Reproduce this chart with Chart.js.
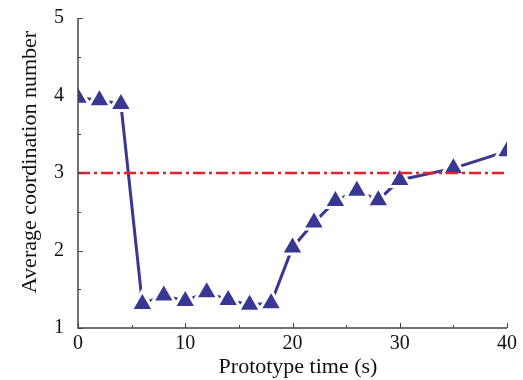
<!DOCTYPE html>
<html>
<head>
<meta charset="utf-8">
<script src="https://cdn.jsdelivr.net/npm/chart.js@4"></script>
<style>
    html, body { margin: 0; padding: 0; background: #fff; }
    #wrap { width: 523px; height: 380px; }
</style>
</head>
<body>
<div id="wrap"><canvas id="coordChart" width="523" height="380"></canvas></div>
<script>
// ===================== DATA =====================
const timeSec = [0, 2, 4, 6, 8, 10, 12, 14, 16, 18, 20, 22, 24, 26, 28, 30, 35, 40];
const avgCoord = [3.97, 3.94, 3.89, 1.31, 1.42, 1.35, 1.46, 1.36, 1.30, 1.32, 2.04, 2.36, 2.64, 2.77, 2.65, 2.91, 3.06, 3.28];
const thresholdX = [0, 40];
const thresholdY = [3, 3];
const xTicks = [0, 10, 20, 30, 40];
const yTicks = [1, 2, 3, 4, 5];
const xMinorTicks = [5, 15, 25, 35];
const yMinorTicks = [1.5, 2.5, 3.5, 4.5];

const FONT = '"Liberation Serif", "Times New Roman", serif';
const BLUE = '#383894';
const RED = '#e3232b';

// Axis lines and inward ticks (drawn through the scales)
const inwardAxes = {
    id: 'inwardAxes',
    afterDatasetsDraw(chart) {
        const ctx = chart.ctx;
        const xs = chart.scales.x;
        const ys = chart.scales.y;
        const left = Math.round(xs.getPixelForValue(0));
        const bottom = Math.round(ys.getPixelForValue(1));
        ctx.save();
        ctx.strokeStyle = '#444';
        ctx.lineWidth = 1.5;
        ctx.beginPath();
        ctx.moveTo(left, ys.getPixelForValue(5));
        ctx.lineTo(left, bottom);
        ctx.lineTo(xs.getPixelForValue(40), bottom);
        ctx.stroke();

        ctx.lineWidth = 1;
        ctx.beginPath();
        xTicks.forEach(function(v) {
            const px = Math.round(xs.getPixelForValue(v)) + 0.5;
            ctx.moveTo(px, bottom);
            ctx.lineTo(px, bottom - 5);
        });
        xMinorTicks.forEach(function(v) {
            const px = Math.round(xs.getPixelForValue(v)) + 0.5;
            ctx.moveTo(px, bottom);
            ctx.lineTo(px, bottom - 3);
        });
        yTicks.forEach(function(v) {
            const py = Math.round(ys.getPixelForValue(v)) + 0.5;
            ctx.moveTo(left, py);
            ctx.lineTo(left + 5, py);
        });
        yMinorTicks.forEach(function(v) {
            const py = Math.round(ys.getPixelForValue(v)) + 0.5;
            ctx.moveTo(left, py);
            ctx.lineTo(left + 3, py);
        });
        ctx.stroke();
        ctx.restore();
    }
};

const ctx = document.getElementById('coordChart').getContext('2d');
const coordChart = new Chart(ctx, {
    type: 'line',
    data: {
        datasets: [{
            data: thresholdX.map(function(x, i) { return { x: x, y: thresholdY[i] }; }),
            borderColor: RED,
            borderWidth: 2.5,
            borderDash: [12, 4, 3, 4],
            pointRadius: 0,
            fill: false
        }, {
            data: timeSec.map(function(t, i) { return { x: t, y: avgCoord[i] }; }),
            borderColor: BLUE,
            borderWidth: 3,
            pointStyle: 'triangle',
            pointRadius: 13,
            pointBorderWidth: 3,
            pointBorderColor: '#fff',
            pointBackgroundColor: BLUE,
            tension: 0,
            fill: false
        }]
    },
    options: {
        responsive: false,
        animation: false,
        events: [],
        layout: { padding: { top: 16, right: 9 } },
        plugins: {
            legend: { display: false },
            tooltip: { enabled: false }
        },
        scales: {
            x: {
                type: 'linear',
                min: 0,
                max: 40,
                afterFit: function(scale) { scale.height = 52; },
                grid: { display: false },
                border: { display: false },
                ticks: {
                    stepSize: 10,
                    padding: -4,
                    maxRotation: 0,
                    color: '#111',
                    font: { family: FONT, size: 20 }
                },
                title: {
                    display: true,
                    text: '  Prototype time (s)',
                    color: '#111',
                    padding: { top: 0, bottom: 0 },
                    font: { family: FONT, size: 22 }
                }
            },
            y: {
                min: 1,
                max: 5,
                afterFit: function(scale) { scale.width = 78; },
                grid: { display: false },
                border: { display: false },
                ticks: {
                    stepSize: 1,
                    padding: 6,
                    color: '#111',
                    font: { family: FONT, size: 20 }
                },
                title: {
                    display: true,
                    text: '    Average coordination number',
                    color: '#111',
                    padding: { top: 17, bottom: 0 },
                    font: { family: FONT, size: 22 }
                }
            }
        }
    },
    plugins: [inwardAxes]
});
</script>
</body>
</html>
